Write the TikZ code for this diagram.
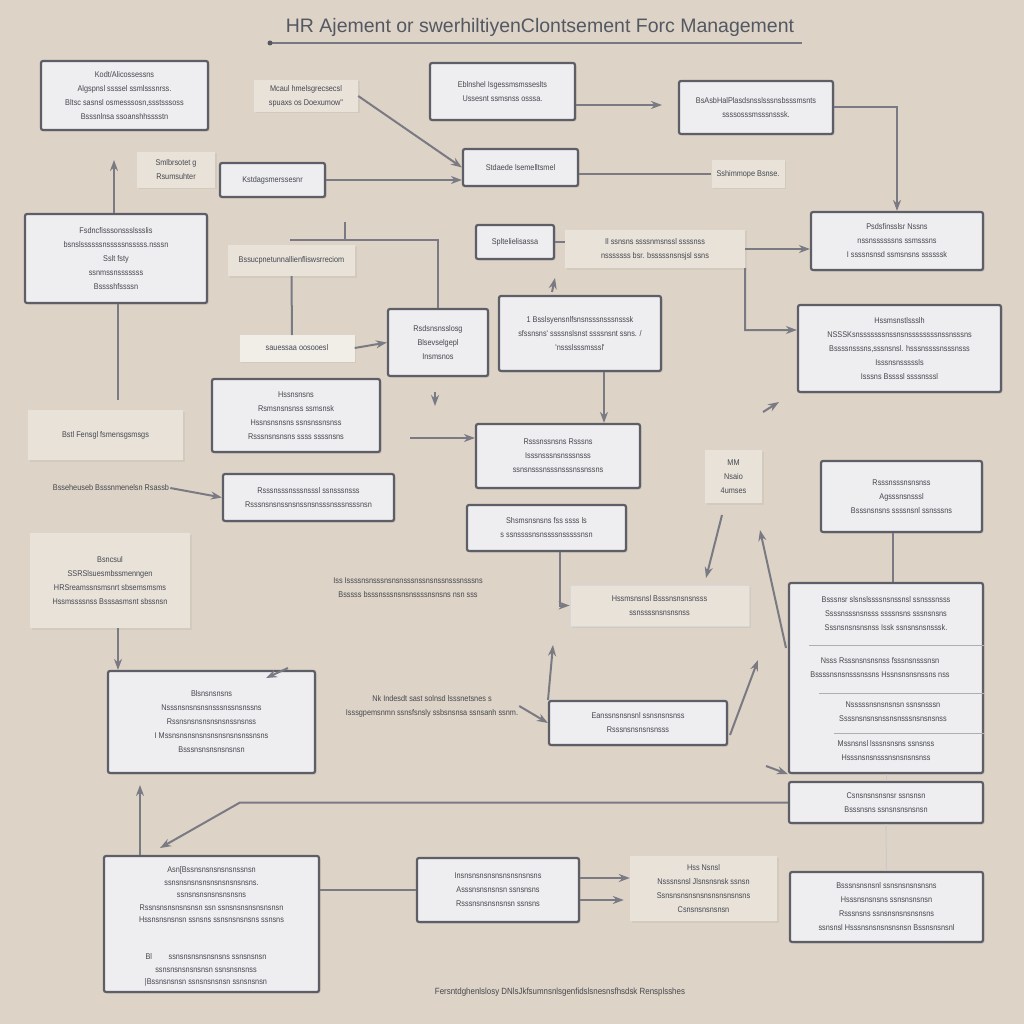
\documentclass[tikz,border=0pt]{standalone}
\usepackage{fontspec}
\setmainfont{Liberation Sans}
\newfontfamily\gib[FakeStretch=0.88]{Liberation Sans}
\usetikzlibrary{arrows.meta,shadows}
\definecolor{bgc}{HTML}{DDD3C6}
\definecolor{boxline}{HTML}{5E5E68}
\definecolor{boxfill}{HTML}{EEEEF0}
\definecolor{labfill}{HTML}{E8E2D9}
\definecolor{txt}{HTML}{45474F}
\definecolor{conn}{HTML}{7A7A84}
\definecolor{titc}{HTML}{545862}
\tikzset{
  bx/.style={draw=boxline, line width=2.2pt, fill=boxfill, rounded corners=2pt, align=center,
    font=\gib\fontsize{8.3}{14}\selectfont, text=txt, inner sep=2pt,
    drop shadow={opacity=0.22, shadow xshift=1.5pt, shadow yshift=-1.5pt}},
  lb/.style={fill=labfill, align=center, font=\gib\fontsize{8.3}{14}\selectfont, text=txt, inner sep=2pt,
    drop shadow={opacity=0.10, shadow xshift=1.5pt, shadow yshift=-1.5pt}},
  tx/.style={align=center, font=\gib\fontsize{8.3}{14}\selectfont, text=txt, inner sep=1pt},
  ln/.style={draw=conn, line width=2pt},
  arr/.style={ln, -{Stealth[length=11pt,width=8pt]}},
  sep/.style={draw=boxline!50, line width=0.8pt},
}
\begin{document}
\begin{tikzpicture}[x=1pt,y=-1pt]
\fill[bgc] (0,0) rectangle (1024,1024);
\useasboundingbox (0,0) rectangle (1024,1024);

% title
\node[font=\fontsize{19.5}{22}\selectfont, text=titc] (title) at (540,27) {HR Ajement or swerhiltiyenClontsement Forc Management};
\coordinate (tl) at (270,43);
\coordinate (tr) at (802,43);
\draw[draw=titc!80, line width=2pt] (tl) -- (tr);
\fill[titc] (tl) circle (2.5pt);

% boxes and labels
\node[bx, minimum width=167pt, minimum height=69pt] (B1) at (124.5,95.5) {Kodt/Alicossessns\\Algspnsl ssssel ssmlsssnrss.\\Bltsc sasnsl osmesssosn,ssstsssoss\\Bsssnlnsa ssoanshhsssstn};
\node[lb, minimum width=104pt, minimum height=32pt] (L1) at (306,96) {Mcaul hmelsgrecsecsl\\spuaxs os Doexumow"};
\node[bx, minimum width=145pt, minimum height=57pt] (B2) at (502.5,91.5) {Eblnshel Isgessmsmsseslts\\Ussesnt ssmsnss osssa.};
\node[bx, minimum width=154pt, minimum height=53pt] (B3) at (756,107.5) {BsAsbHalPlasdsnsslsssnsbsssmsnts\\ssssosssmsssnsssk.};
\node[lb, minimum width=78pt, minimum height=36pt] (L2) at (176,170) {Smlbrsotet g\\Rsumsuhter};
\node[bx, minimum width=105pt, minimum height=34pt] (B4) at (272.5,180) {Kstdagsmerssesnr};
\node[bx, minimum width=115pt, minimum height=37pt] (B5) at (520.5,167.5) {Stdaede lsemelltsmel};
\node[lb, minimum width=73pt, minimum height=28pt] (L3) at (748,174) {Sshimmope Bsnse.};
\node[bx, minimum width=182pt, minimum height=89pt] (B6) at (116,258.5) {Fsdncfisssonssslssslis\\bsnslssssssnsssssnsssss.nsssn\\Sslt fsty\\ssnmssnsssssss\\Bsssshfssssn};
\node[lb, minimum width=127pt, minimum height=31pt] (L4) at (291.5,260.5) {Bssucpnetunnallienfliswsrreciom};
\node[bx, minimum width=78pt, minimum height=34pt] (B7) at (515,242) {Spltelielisassa};
\node[lb, minimum width=180pt, minimum height=38pt] (L5) at (655,249) {Il ssnsns ssssnmsnssl  ssssnss\\nsssssss bsr. bsssssnsnsjsl ssns};
\node[bx, minimum width=172pt, minimum height=58pt] (B8) at (897,241) {Psdsfinsslsr Nssns\\nssnssssssns ssmsssns\\I ssssnsnsd  ssmsnsns ssssssk};
\node[lb, fill=labfill!60, minimum width=115pt, minimum height=27pt] (L6) at (297,348) {sauessaa oosooesl};
\node[bx, minimum width=100pt, minimum height=67pt] (B9) at (438,342.5) {Rsdsnsnsslosg\\Blsevselgepl\\Insmsnos};
\node[bx, minimum width=162pt, minimum height=75pt] (B10) at (580,333.5) {1 Bsslsyensnlfsnsnsssnsssnsssk\\sfssnsns' ssssnslsnst  ssssnsnt ssns. /\\'nssslsssmsssl'};
\node[bx, minimum width=203pt, minimum height=87pt] (B11) at (899.5,348.5) {Hssmsnstlssslh\\NSSSKsnsssssssnssnsnssssssssnssnsssns\\Bssssnsssns,sssnsnsl. hsssnssssnsssnsss\\Isssnsnsssssls\\Isssns Bssssl ssssnsssl};
\node[lb, minimum width=155pt, minimum height=50pt] (L7) at (105.5,435) {Bstl Fensgl fsmensgsmsgs};
\node[bx, minimum width=168pt, minimum height=73pt] (B12) at (296,415.5) {Hssnsnsns\\Rsmsnsnsnss ssmsnsk\\Hssnsnsnsns ssnsnssnsnss\\Rsssnsnsnsns ssss ssssnsns};
\node[bx, minimum width=164pt, minimum height=64pt] (B13) at (558,456) {Rsssnssnsns  Rsssns\\Isssnsssnsnsssnsss\\ssnsnsssnsssnsssnssnssns};
\node[lb, minimum width=57pt, minimum height=53pt] (L8) at (733.5,476.5) {MM\\Nsaio\\4umses};
\node[bx, minimum width=161pt, minimum height=71pt] (B14) at (901.5,496.5) {Rsssnsssnsnsnss\\Agsssnsnsssl\\Bsssnsnsns ssssnsnl ssnsssns};
\node[tx] (T23) at (111,488) {Bsseheuseb  Bsssnmenelsn  Rsassb};
\node[bx, minimum width=171pt, minimum height=47pt] (B15) at (308.5,497.5) {Rsssnsssnsssnsssl  ssnsssnsss\\Rsssnsnsnssnsnssnsnsssnsssnsssnsn};
\node[bx, minimum width=159pt, minimum height=46pt] (B16) at (546.5,528) {Shsmsnsnsns fss ssss ls\\s ssnssssnsnssssnsssssnsn};
\node[lb, minimum width=160pt, minimum height=95pt] (L9) at (110,580.5) {Bsncsul\\SSRSlsuesmbssmenngen\\HRSreamssnsmsnrt sbsemsmsms\\Hssmssssnss Bsssasmsnt sbssnsn};
\node[tx] (T27) at (408,588) {Iss Issssnsnsssnsnsnsssnssnsnssnsssnsssns\\Bsssss bsssnsssnsnsnssssnsnsns nsn sss};
\node[lb, draw=boxline!25, line width=0.8pt, minimum width=179pt, minimum height=41pt] (L11) at (659.5,605.5) {Hssmsnsnsl  Bsssnsnsnsnsss\\ssnssssnsnsnsnss};
\node[bx, minimum width=194pt, minimum height=190pt] (B17) at (886,678) {};
\node[tx] (S1) at (886,614) {Bsssnsr slsnslssssnsnssnsl ssnsssnsss\\Ssssnsssnsnsss ssssnsns sssnsnsns\\Sssnsnsnsnsnss  Issk ssnsnsnsnsssk.};
\node[tx] (S2) at (880,668) {Nsss Rsssnsnsnsnss fsssnsnsssnsn\\Bssssnsnsnsssnssns  Hssnsnsnsnssns nss};
\node[tx] (S3) at (893,712) {Nsssssnsnsnsnsn ssnsnsssn\\Ssssnsnsnsnssnsnsssnsnsnsnss};
\node[tx] (S4) at (886,751) {Mssnsnsl lsssnsnsns ssnsnss\\Hsssnsnsnsssnsnsnsnsnss};
\coordinate (s1) at (0,645);
\coordinate (s2) at (0,693);
\coordinate (s3) at (0,733);
\draw[sep] (B17.east |- s1) -- ++(-175,0);
\draw[sep] (B17.east |- s2) -- ++(-165,0);
\draw[sep] (B17.east |- s3) -- ++(-150,0);
\node[bx, minimum width=207pt, minimum height=102pt] (B18) at (211.5,722) {Blsnsnsnsns\\Nsssnsnsnsnsnsssnssnsnssns\\Rssnsnsnsnsnsnsnssnsnss\\I Mssnsnsnsnsnsnsnsnsnsnssnsns\\Bsssnsnsnsnsnsnsn};
\node[tx] (T31) at (432,706) {Nk Indesdt sast solnsd lsssnetsnes s\\Isssgpemsnmn ssnsfsnsly ssbsnsnsa ssnsanh ssnm.};
\node[bx, minimum width=178pt, minimum height=44pt] (B19) at (638,723) {Eanssnsnsnsnl ssnsnsnsnss\\Rsssnsnsnsnsnsss};
\node[bx, minimum width=194pt, minimum height=41pt] (B20) at (886,802.5) {Csnsnsnsnsnsr ssnsnsn\\Bsssnsns ssnsnsnsnsnsn};
\node[bx, minimum width=215pt, minimum height=136pt] (B21) at (211.5,924) {};
\node[tx, font=\gib\fontsize{8.3}{12.5}\selectfont] (B21a) at (211.5,895) {Asn[Bssnsnsnsnsnsnssnsn\\ssnsnsnsnsnsnsnsnsnsnsns.\\ssnsnsnsnsnsnsnsns\\Rssnsnsnsnsnsnsn ssn ssnsnsnsnsnsnsnsn\\Hssnsnsnsnsn ssnsns ssnsnsnsnsns ssnsns};
\node[tx, font=\gib\fontsize{8.3}{12.5}\selectfont] (B21b) at (206,970) {Bl\quad\quad ssnsnsnsnsnsnsns ssnsnsnsn\\ssnsnsnsnsnsnsn ssnsnsnsnss\\|Bssnsnsnsn ssnsnsnsnsn ssnsnsnsn};
\node[bx, minimum width=162pt, minimum height=64pt] (B22) at (498,890) {Insnsnsnsnsnsnsnsnsnsns\\Asssnsnsnsnsn ssnsnsns\\Rsssnsnsnsnsnsn ssnsns};
\node[lb, minimum width=147pt, minimum height=65pt] (L12) at (703.5,888.5) {Hss Nsnsl\\Nsssnsnsl Jlsnsnsnsk ssnsn\\Ssnsnsnsnsnsnsnsnsnsnsns\\Csnsnsnsnsnsn};
\node[bx, minimum width=193pt, minimum height=70pt] (B23) at (886.5,907) {Bsssnsnsnsnl ssnsnsnsnsnsns\\Hsssnsnsnsns ssnsnsnsnsn\\Rsssnsns ssnsnsnsnsnsnsns\\ssnsnsl Hsssnsnsnsnsnsnsn Bssnsnsnsnl};
\node[tx, font=\gib\fontsize{9}{12}\selectfont] (foot) at (560,992) {Fersntdghenlslosy DNlsJkfsumnsnlsgenfidslsnesnsfhsdsk Rensplsshes};

% connectors
\coordinate (a1) at (114,160);
\draw[arr] (B6.north -| a1) -- (a1);
\coordinate (a2) at (118,400);
\draw[ln] (B6.south -| a2) -- (a2);
\draw[arr] (L1.east) -- (B5.west);
\draw[arr] (B4.east) -- (B4.east -| B5.west);
\coordinate (a5) at (662,105);
\draw[arr] (B2.east |- a5) -- (a5);
\draw[arr] (B3.east) -| (B8.north);
\draw[ln] (L3.west) -- (L3.west -| B5.east);
\coordinate (a8) at (290,240);
\coordinate (a8b) at (345,222);
\draw[ln] (a8) -| (B9.north);
\draw[ln] (a8b) -- (a8b |- a8);
\coordinate (a9) at (292,335);
\draw[ln] (L4.south) -- (a9);
\draw[arr] (L6.east) -- (B9.west);
\draw[ln] (B7.east) -- (B7.east -| L5.west);
\draw[arr] (L5.east) -- (L5.east -| B8.west);
\coordinate (a13) at (745,330);
\draw[arr] (L5.south east) -- (a13) -- (a13 -| B11.west);
\coordinate (a14) at (604,0);
\draw[arr] (B10.south -| a14) -- (B13.north -| a14);
\coordinate (a15) at (552,292);
\draw[arr] (a15) -- ++(3,-14);
\coordinate (a16) at (410,438);
\draw[arr] (a16) -- (a16 -| B13.west);
\coordinate (a17) at (435,392);
\draw[arr] (a17) -- ++(0,14);
\draw[arr] (T23.east) -- (B15.west);
\coordinate (a20a) at (722,515);
\coordinate (a20b) at (706,578);
\draw[arr] (a20a) -- (a20b);
\coordinate (a20c) at (786,648);
\coordinate (a20d) at (760,530);
\draw[arr] (a20c) -- (a20d);
\coordinate (a20e) at (763,412);
\draw[arr] (a20e) -- ++(16,-10);
\coordinate (a21) at (893,0);
\draw[ln] (B14.south -| a21) -- (B17.north -| a21);
\coordinate (a22) at (560,0);
\draw[arr] (B16.south -| a22) |- (L11.west);
\coordinate (a23) at (118,0);
\draw[arr] (L9.south -| a23) -- (B18.north -| a23);
\coordinate (a24) at (288,668);
\draw[arr] (a24) -- ++(-22,10);
\draw[arr] (T31.east) -- (B19.west);
\coordinate (a26) at (548,700);
\draw[arr] (a26) -- ++(5,-55);
\coordinate (a27) at (730,735);
\draw[arr] (a27) -- ++(28,-75);
\coordinate (a28) at (766,766);
\draw[arr] (a28) -- (B17.south west);
\coordinate (a29) at (240,0);
\coordinate (a29b) at (160,848);
\draw[arr] (B20.west) -- (B20.west -| a29) -- (a29b);
\coordinate (a30) at (140,785);
\draw[arr] (B21.north -| a30) -- (a30);
\draw[ln] (B22.west -| B21.east) -- (B22.west);
\coordinate (a32) at (0,878);
\coordinate (a32b) at (0,900);
\draw[arr] (B22.east |- a32) -- (L12.west |- a32);
\draw[arr] (B22.east |- a32b) -- ([xshift=-6pt]L12.west |- a32b);
\draw[ln, draw=conn!40, line width=1pt] (B17.south -| B20.north) -- (B20.north);
\draw[ln, draw=conn!40, line width=1pt] (B20.south) -- (B23.north);
\end{tikzpicture}
\end{document}
